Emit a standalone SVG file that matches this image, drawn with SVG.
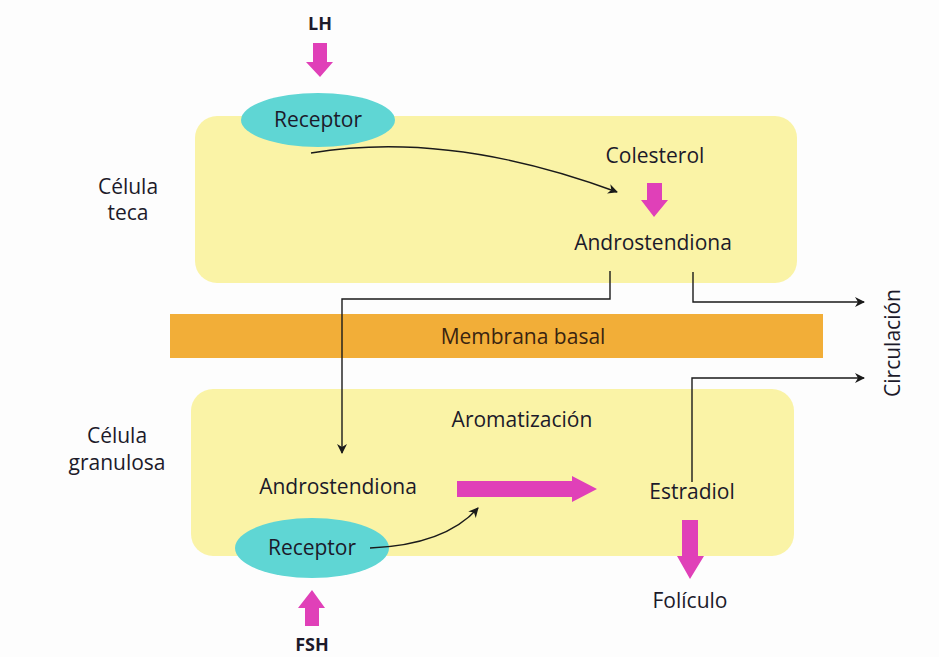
<svg xmlns="http://www.w3.org/2000/svg" width="939" height="657" viewBox="0 0 939 657">
<defs>
<style>
text{font-family:"Open Sans","Noto Sans",sans-serif;font-size:21px;fill:#1c1a2a;text-anchor:middle}
.b{font-weight:bold;font-size:18px}
.cell{fill:#faf3a6}
.rec{fill:#5fd6d4}
.pk{fill:#e040b8}
.ln{fill:none;stroke:#1a1a1a;stroke-width:1.4}
</style>
<marker id="ah" viewBox="0 0 10 10" refX="9" refY="5" markerWidth="10" markerHeight="10" markerUnits="userSpaceOnUse" orient="auto">
<path d="M0,0 L10,5 L0,10 L3,5 Z" fill="#1a1a1a"/>
</marker>
</defs>
<rect width="939" height="657" fill="#fdfdfd"/>
<g id="teca">
<rect class="cell" x="195" y="116" width="602" height="167" rx="22"/>
<text x="128" y="194">Célula</text>
<text x="128" y="220">teca</text>
</g>
<g id="granulosa">
<rect class="cell" x="191" y="389" width="603" height="167" rx="22"/>
<text x="117" y="443">Célula</text>
<text x="117" y="470">granulosa</text>
</g>
<g id="membrana">
<rect x="170" y="314" width="653" height="44" fill="#f2ae38"/>
<text x="523" y="344" style="fill:#3a2410">Membrana basal</text>
</g>
<g id="lh">
<text class="b" x="320" y="30">LH</text>
<path class="pk" d="M313,43 H327 V62 H333 L320,77 L306,62 H313 Z"/>
</g>
<g id="receptor-teca">
<ellipse class="rec" cx="318" cy="120" rx="77" ry="27"/>
<text x="318" y="127">Receptor</text>
</g>
<g id="colesterol">
<text x="655" y="163">Colesterol</text>
<path class="pk" d="M647,183 H662 V200 H668 L654,217 L641,200 H647 Z"/>
</g>
<g id="andro-teca">
<text x="653" y="250">Androstendiona</text>
</g>
<g id="aromatizacion">
<text x="522" y="427">Aromatización</text>
</g>
<g id="andro-gran">
<text x="338" y="494">Androstendiona</text>
<path class="pk" d="M457,481 H572 V476 L597,489 L572,502 V497 H457 Z"/>
</g>
<g id="estradiol">
<text x="692" y="499">Estradiol</text>
<path class="pk" d="M682,520 H698 V556 H704 L690,579 L677,556 H682 Z"/>
</g>
<g id="foliculo">
<text x="690" y="608">Folículo</text>
</g>
<g id="receptor-gran">
<ellipse class="rec" cx="312" cy="548" rx="77" ry="30"/>
<text x="312" y="555">Receptor</text>
</g>
<g id="fsh">
<path class="pk" d="M305,626 H319 V608 H325 L312,590 L298,608 H305 Z"/>
<text class="b" x="312" y="651">FSH</text>
</g>
<g id="circulacion">
<text x="0" y="0" transform="translate(900,343) rotate(-90)">Circulación</text>
</g>
<g id="connectors">
<path class="ln" d="M311,153 Q450,130 617,192" marker-end="url(#ah)"/>
<path class="ln" d="M610,271 V299 H342 V453" marker-end="url(#ah)"/>
<path class="ln" d="M693,272 V302 H864" marker-end="url(#ah)"/>
<path class="ln" d="M692,482 V378 H864" marker-end="url(#ah)"/>
<path class="ln" d="M370,548 Q445,545 478,508" marker-end="url(#ah)"/>
</g>
</svg>
